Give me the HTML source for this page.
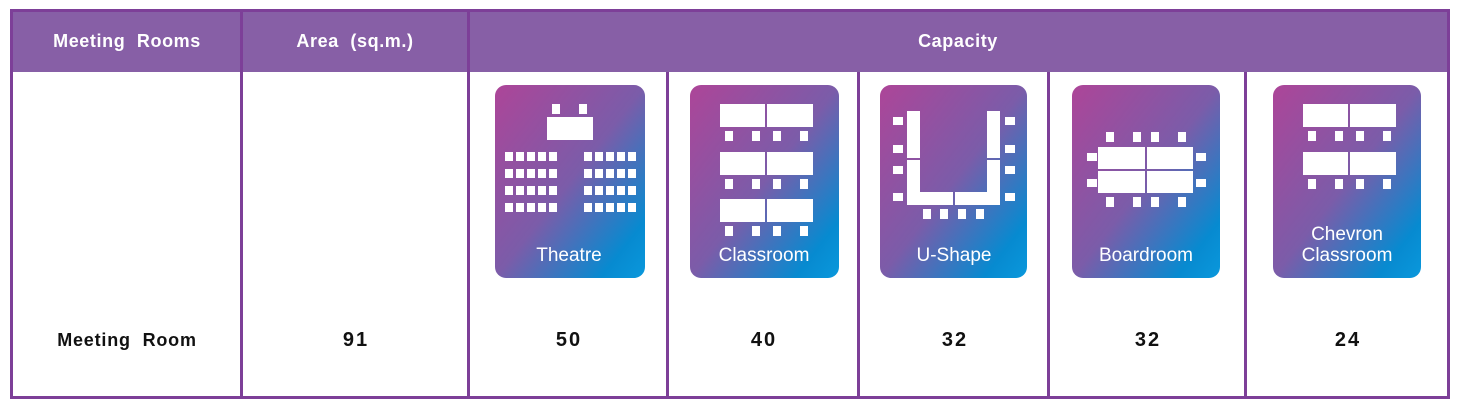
<!DOCTYPE html>
<html><head><meta charset="utf-8"><style>
html,body{margin:0;padding:0;background:#fff;}
svg{display:block;}
</style></head><body>
<svg width="1460" height="406" viewBox="0 0 1460 406" xmlns="http://www.w3.org/2000/svg" font-family="Liberation Sans, sans-serif">
<defs>
<linearGradient id="g" x1="0" y1="0" x2="1" y2="1">
<stop offset="0" stop-color="#ad4598"/>
<stop offset="0.5" stop-color="#7b5ca9"/>
<stop offset="0.85" stop-color="#078ad0"/>
<stop offset="1" stop-color="#0a98dc"/>
</linearGradient>
</defs>
<rect x="0" y="0" width="1460" height="406" fill="#fff"/>
<rect x="11" y="10" width="1438" height="62" fill="#875fa6"/>
<g fill="none" stroke="#7d3f98" stroke-width="3">
<rect x="11.5" y="10.5" width="1437" height="387"/>
<line x1="241.5" y1="10" x2="241.5" y2="398"/>
<line x1="468.5" y1="10" x2="468.5" y2="398"/>
<line x1="667.5" y1="72" x2="667.5" y2="398"/>
<line x1="858.5" y1="72" x2="858.5" y2="398"/>
<line x1="1048.5" y1="72" x2="1048.5" y2="398"/>
<line x1="1245.5" y1="72" x2="1245.5" y2="398"/>
</g>
<g fill="#fff" font-weight="bold" font-size="18" text-anchor="middle">
<text x="127" y="47" word-spacing="6" letter-spacing="0.6">Meeting Rooms</text>
<text x="355" y="47" word-spacing="6" letter-spacing="0.6">Area (sq.m.)</text>
<text x="958" y="47" letter-spacing="0.6">Capacity</text>
</g>
<g fill="#111" font-weight="bold" text-anchor="middle">
<text x="127" y="346" font-size="18" word-spacing="6" letter-spacing="0.8">Meeting Room</text>
<g font-size="20" letter-spacing="2">
<text x="356" y="346">91</text>
<text x="569" y="346">50</text>
<text x="764" y="346">40</text>
<text x="955" y="346">32</text>
<text x="1148" y="346">32</text>
<text x="1348" y="346">24</text>
</g>
</g>
<!-- icons -->
<g>
<rect x="495" y="85" width="150" height="193" rx="11" fill="url(#g)"/>
<rect x="690" y="85" width="149" height="193" rx="11" fill="url(#g)"/>
<rect x="880" y="85" width="147" height="193" rx="11" fill="url(#g)"/>
<rect x="1072" y="85" width="148" height="193" rx="11" fill="url(#g)"/>
<rect x="1273" y="85" width="148" height="193" rx="11" fill="url(#g)"/>
</g>
<g fill="#fff">
<rect x="552" y="104" width="8" height="10"/><rect x="579" y="104" width="8" height="10"/>
<rect x="547" y="117" width="46" height="23"/>
<g id="grid">
<rect x="505" y="152" width="8" height="9"/><rect x="516" y="152" width="8" height="9"/><rect x="527" y="152" width="8" height="9"/><rect x="538" y="152" width="8" height="9"/><rect x="549" y="152" width="8" height="9"/>
<rect x="505" y="169" width="8" height="9"/><rect x="516" y="169" width="8" height="9"/><rect x="527" y="169" width="8" height="9"/><rect x="538" y="169" width="8" height="9"/><rect x="549" y="169" width="8" height="9"/>
<rect x="505" y="186" width="8" height="9"/><rect x="516" y="186" width="8" height="9"/><rect x="527" y="186" width="8" height="9"/><rect x="538" y="186" width="8" height="9"/><rect x="549" y="186" width="8" height="9"/>
<rect x="505" y="203" width="8" height="9"/><rect x="516" y="203" width="8" height="9"/><rect x="527" y="203" width="8" height="9"/><rect x="538" y="203" width="8" height="9"/><rect x="549" y="203" width="8" height="9"/>
</g>
<use href="#grid" x="79"/>
<g id="crow">
<rect x="720" y="104" width="45" height="23"/><rect x="767" y="104" width="46" height="23"/>
<rect x="725" y="131" width="8" height="10"/><rect x="752" y="131" width="8" height="10"/><rect x="773" y="131" width="8" height="10"/><rect x="800" y="131" width="8" height="10"/>
</g>
<use href="#crow" y="48"/>
<use href="#crow" y="95"/>
<rect x="907" y="111" width="13" height="47"/>
<rect x="907" y="160" width="13" height="45"/>
<rect x="907" y="192" width="46" height="13"/>
<rect x="987" y="111" width="13" height="47"/>
<rect x="987" y="160" width="13" height="45"/>
<rect x="955" y="192" width="45" height="13"/>
<rect x="893" y="117" width="10" height="8"/><rect x="893" y="145" width="10" height="8"/><rect x="893" y="166" width="10" height="8"/><rect x="893" y="193" width="10" height="8"/>
<rect x="1005" y="117" width="10" height="8"/><rect x="1005" y="145" width="10" height="8"/><rect x="1005" y="166" width="10" height="8"/><rect x="1005" y="193" width="10" height="8"/>
<rect x="923" y="209" width="8" height="10"/><rect x="940" y="209" width="8" height="10"/><rect x="958" y="209" width="8" height="10"/><rect x="976" y="209" width="8" height="10"/>
<rect x="1098" y="147" width="47" height="22"/><rect x="1147" y="147" width="46" height="22"/>
<rect x="1098" y="171" width="47" height="22"/><rect x="1147" y="171" width="46" height="22"/>
<rect x="1106" y="132" width="8" height="10"/><rect x="1133" y="132" width="8" height="10"/><rect x="1151" y="132" width="8" height="10"/><rect x="1178" y="132" width="8" height="10"/>
<rect x="1106" y="197" width="8" height="10"/><rect x="1133" y="197" width="8" height="10"/><rect x="1151" y="197" width="8" height="10"/><rect x="1178" y="197" width="8" height="10"/>
<rect x="1087" y="153" width="10" height="8"/><rect x="1087" y="179" width="10" height="8"/>
<rect x="1196" y="153" width="10" height="8"/><rect x="1196" y="179" width="10" height="8"/>
<use href="#crow" x="583"/>
<use href="#crow" x="583" y="48"/>
</g>
<g fill="#fff" font-size="19" text-anchor="middle">
<text x="569" y="261">Theatre</text>
<text x="764" y="261">Classroom</text>
<text x="954" y="261">U-Shape</text>
<text x="1146" y="261">Boardroom</text>
<text x="1347" y="240">Chevron</text>
<text x="1347" y="261">Classroom</text>
</g>
</svg>
</body></html>
